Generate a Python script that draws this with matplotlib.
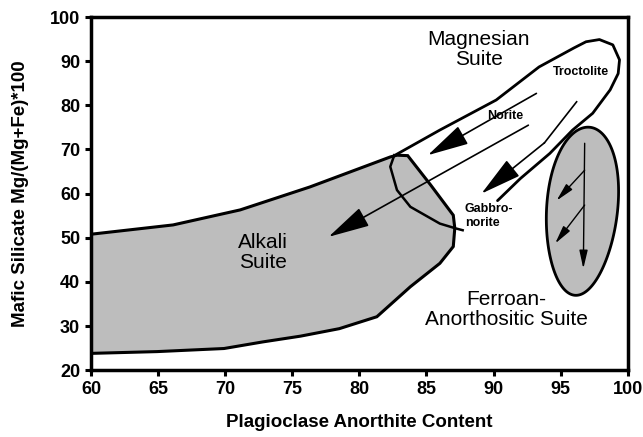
import numpy as np
import matplotlib.pyplot as plt

plt.rcParams['font.family'] = ['Liberation Sans', 'DejaVu Sans']

# outlines (anorthite, Mg#)
alkali_x = [60, 66.1, 71.1, 76.3, 82.3, 82.8, 83.6, 85.3, 87.0, 87.1, 87.1, 87.0,
            86.0, 83.8, 81.3, 78.5, 75.6, 72.8, 69.9, 64.9, 60]
alkali_y = [50.8, 52.9, 56.3, 61.5, 68.3, 68.7, 68.6, 62.0, 55.1, 52.5, 51.7, 48.0,
            44.2, 38.9, 32.1, 29.4, 27.7, 26.4, 24.9, 24.2, 23.8]

# cap of the alkali field (curved edge)
cap_x = [82.6, 82.3, 82.8, 83.8, 86.0, 87.2, 87.7]
cap_y = [68.7, 66.1, 60.8, 57.0, 53.2, 52.1, 51.7]

# magnesian suite outline (open, from the alkali top round to gabbronorite)
mg_x = [82.6, 86.0, 90.2, 93.4, 96.0, 96.9, 97.9, 98.9, 99.4, 99.3, 98.7, 97.4,
        95.9, 94.2, 92.0, 90.3]
mg_y = [68.6, 74.4, 81.2, 88.7, 93.0, 94.4, 94.9, 93.7, 90.3, 87.2, 83.5, 78.2,
        74.4, 69.1, 63.4, 58.4]

# ferroan anorthositic field: centre, half width, half height, tilt
fan_cx, fan_cy = 96.6, 56.0
fan_a, fan_b, fan_tilt = 2.65, 19.05, 0.45

# trend arrows (start -> tip)
big_arrows = [((93.2, 82.7), (85.1, 68.7)),
              ((92.6, 75.5), (77.7, 50.2))]
troct_line = ([96.2, 93.8], [80.8, 71.5])
troct_tip = (89.1, 60.0)
fan_arrows = [((96.8, 71.4), (96.7, 43.0)),
              ((96.8, 65.3), (94.7, 58.4)),
              ((96.8, 57.4), (94.6, 48.7))]

xticks = [60, 65, 70, 75, 80, 85, 90, 95, 100]
yticks = [20, 30, 40, 50, 60, 70, 80, 90, 100]

fig = plt.figure(figsize=(6.43, 4.37), dpi=100)
ax = fig.add_axes([0.142, 0.153, 0.834, 0.808])

gray = '#bdbdbd'
ax.fill(alkali_x, alkali_y, facecolor=gray, edgecolor='black', lw=2.2, zorder=2)
ax.plot(cap_x, cap_y, color='black', lw=1.8, zorder=3)
ax.plot(mg_x, mg_y, color='black', lw=2.0, zorder=3, solid_capstyle='round')

# slightly egg shaped oval, wider at the top
t = np.linspace(0, 2 * np.pi, 200)
fx = fan_cx + fan_a * (1 + 0.08 * np.sin(t)) * np.cos(t) + fan_tilt * np.sin(t)
fy = fan_cy + fan_b * np.sin(t)
ax.fill(fx, fy, facecolor=gray, edgecolor='black', lw=2.0, zorder=2)

big_style = '-|>,head_length=1.3,head_width=0.32'
for (x0, y0), (x1, y1) in big_arrows:
    ax.annotate('', xy=(x1, y1), xytext=(x0, y0),
                arrowprops=dict(arrowstyle=big_style, color='black', lw=1.2,
                                mutation_scale=20, shrinkA=0, shrinkB=0), zorder=4)
ax.plot(troct_line[0], troct_line[1], color='black', lw=1.2, zorder=4)
ax.annotate('', xy=troct_tip, xytext=(troct_line[0][-1], troct_line[1][-1]),
            arrowprops=dict(arrowstyle=big_style, color='black', lw=1.2,
                            mutation_scale=20, shrinkA=0, shrinkB=0), zorder=4)

for (x0, y0), (x1, y1) in fan_arrows:
    ax.annotate('', xy=(x1, y1), xytext=(x0, y0),
                arrowprops=dict(arrowstyle='-|>,head_length=1.1,head_width=0.25',
                                color='black', lw=1.0, mutation_scale=10,
                                shrinkA=0, shrinkB=0), zorder=4)

# labels
ax.text(88.9, 92.7, 'Magnesian\nSuite', ha='center', va='center', fontsize=15,
        linespacing=1.1)
ax.text(72.8, 46.6, 'Alkali\nSuite', ha='center', va='center', fontsize=15,
        linespacing=1.1)
ax.text(90.95, 33.7, 'Ferroan-\nAnorthositic Suite', ha='center', va='center',
        fontsize=15, linespacing=1.1)
ax.text(96.5, 87.5, 'Troctolite', ha='center', va='center', fontsize=9,
        fontweight='bold')
ax.text(90.85, 77.6, 'Norite', ha='center', va='center', fontsize=9,
        fontweight='bold')
ax.text(87.85, 55.0, 'Gabbro-\nnorite', ha='left', va='center', fontsize=9,
        fontweight='bold', linespacing=1.2)

ax.set_xlim(60, 100)
ax.set_ylim(20, 100)
ax.set_xticks(xticks)
ax.set_yticks(yticks)
ax.tick_params(direction='out', length=4, width=2.2, labelsize=13, pad=4)
for lab in ax.get_xticklabels() + ax.get_yticklabels():
    lab.set_fontweight('bold')
for s in ax.spines.values():
    s.set_linewidth(2.5)
ax.set_xlabel('Plagioclase Anorthite Content', fontsize=13.5, fontweight='bold')
ax.set_ylabel('Mafic Silicate Mg/(Mg+Fe)*100', fontsize=13.5, fontweight='bold')
ax.xaxis.set_label_coords(0.5, -0.125)
ax.yaxis.set_label_coords(-0.117, 0.5)

fig.savefig('out.png', dpi=100)
